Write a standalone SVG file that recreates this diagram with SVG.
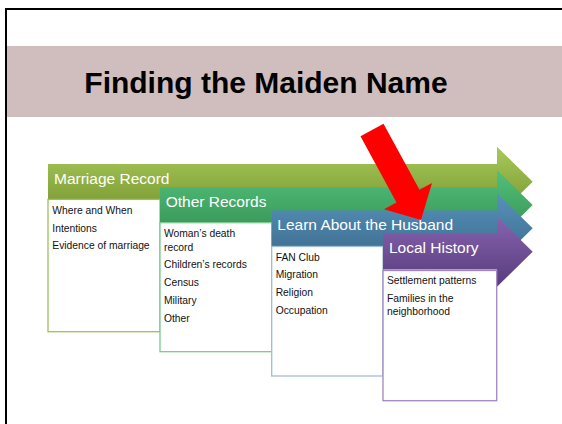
<svg xmlns="http://www.w3.org/2000/svg" width="562" height="424" viewBox="0 0 562 424">
<style>
.lbl{font-family:"Liberation Sans",Arial,sans-serif;font-size:15.5px;fill:#ffffff}
.txt{font-family:"Liberation Sans",Arial,sans-serif;font-size:10.3px;fill:#111111}
.box{fill:#ffffff;stroke-width:1.3}
</style>
<defs>
<linearGradient id="g1" x1="0" y1="0" x2="0" y2="1"><stop offset="0" stop-color="#a8c95a"/><stop offset="1" stop-color="#76952f"/></linearGradient>
<linearGradient id="g2" x1="0" y1="0" x2="0" y2="1"><stop offset="0" stop-color="#52c07c"/><stop offset="1" stop-color="#348f50"/></linearGradient>
<linearGradient id="g3" x1="0" y1="0" x2="0" y2="1"><stop offset="0" stop-color="#5791bb"/><stop offset="1" stop-color="#3b6a8a"/></linearGradient>
<linearGradient id="g4" x1="0" y1="0" x2="0" y2="1"><stop offset="0" stop-color="#8763b0"/><stop offset="1" stop-color="#573c7c"/></linearGradient>
</defs>
<rect x="0" y="0" width="562" height="424" fill="#ffffff"/>
<rect x="6" y="9" width="600" height="500" fill="none" stroke="#000000" stroke-width="2"/>
<g id="title">
<rect x="7" y="46" width="555" height="71" fill="#d0bebe"/>
<text x="266" y="93" text-anchor="middle" font-family="Liberation Sans,Arial,sans-serif" font-size="30" font-weight="bold" fill="#000000">Finding the Maiden Name</text>
</g>
<g id="marriage">
<path d="M48,164 H497 V146.7 L532.7,181.7 L497,216.7 V199.4 H48 Z" fill="url(#g1)"/>
<text class="lbl" x="54" y="183.5">Marriage Record</text>
<rect class="box" x="48" y="199.4" width="112" height="132.3" stroke="#9bc060"/>
<text class="txt" x="52.3" y="214.3">Where and When</text>
<text class="txt" x="52.3" y="231.7">Intentions</text>
<text class="txt" x="52.3" y="249">Evidence of marriage</text>
</g>
<g id="other">
<path d="M160,187.3 H497 V170 L532.7,205 L497,240 V222.7 H160 Z" fill="url(#g2)"/>
<text class="lbl" x="165.7" y="206.8">Other Records</text>
<rect class="box" x="160" y="222.7" width="111.7" height="129" stroke="#7cc892"/>
<text class="txt" x="164" y="237.3">Woman’s death</text>
<text class="txt" x="164" y="250.7">record</text>
<text class="txt" x="164" y="268.3">Children’s records</text>
<text class="txt" x="164" y="286">Census</text>
<text class="txt" x="164" y="304">Military</text>
<text class="txt" x="164" y="321.7">Other</text>
</g>
<g id="husband">
<path d="M271.7,210.6 H497 V193.3 L532.7,228.3 L497,263.3 V246 H271.7 Z" fill="url(#g3)"/>
<text class="lbl" x="277.3" y="230">Learn About the Husband</text>
<rect class="box" x="271.7" y="246.5" width="111.3" height="129.5" stroke="#a2bcd2"/>
<text class="txt" x="275.7" y="261">FAN Club</text>
<text class="txt" x="275.7" y="278.3">Migration</text>
<text class="txt" x="275.7" y="296">Religion</text>
<text class="txt" x="275.7" y="314">Occupation</text>
</g>
<g id="local">
<path d="M383,234 H497 V216.7 L532.7,251.7 L497,286.7 V269.4 H383 Z" fill="url(#g4)"/>
<text class="lbl" x="389" y="253.3">Local History</text>
<rect class="box" x="383" y="270.5" width="113.7" height="130.2" stroke="#a086c2"/>
<text class="txt" x="387" y="284.3">Settlement patterns</text>
<text class="txt" x="387" y="302.3">Families in the</text>
<text class="txt" x="387" y="315">neighborhood</text>
</g>
<g id="connectors">
<path d="M360.5,136.3 L383.5,123.7 L419.5,189.8 L432,183 L421,220 L384,209.2 L396.5,202.4 Z" fill="#ff0000"/>
</g>
</svg>
